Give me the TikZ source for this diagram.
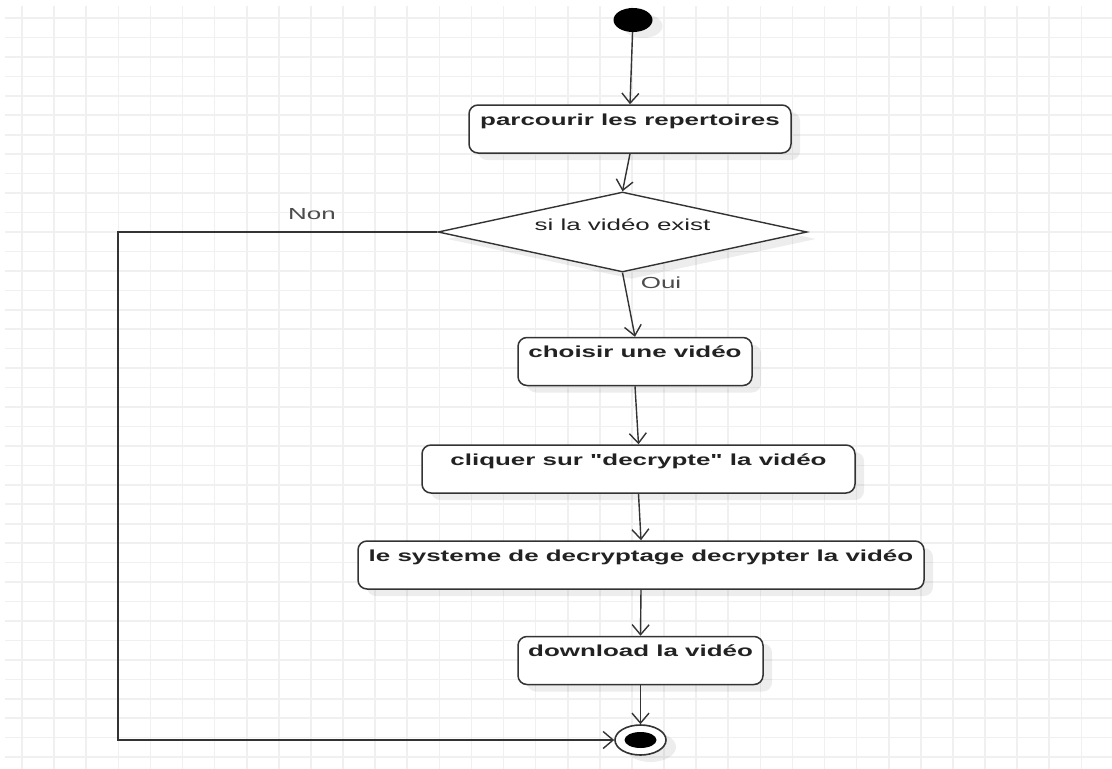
\documentclass[tikz,border=0pt]{standalone}
\usepackage{fontspec}
\setmainfont{Liberation Sans}
\newfontfamily\diagfont[FakeStretch=1.62]{Liberation Sans}
\usetikzlibrary{arrows.meta,shapes.geometric,shadows}
\definecolor{gridgray}{HTML}{F0F0F0}
\definecolor{linegray}{HTML}{333333}
\definecolor{textgray}{HTML}{222222}

\tikzset{
  gridline/.style={draw=gridgray, line width=1.6pt},
  softshadow/.style={drop shadow={shadow xshift=9pt, shadow yshift=-7pt, opacity=0.07, fill=black}},
  action/.style={draw=linegray, line width=1.5pt, rounded corners=9pt, fill=white, softshadow,
    font=\diagfont\fontsize{16}{18}\selectfont\bfseries, text=textgray,
    text height=18pt, text depth=26pt, inner ysep=2pt, inner xsep=0pt, minimum height=48pt},
  decision/.style={diamond, draw=linegray, line width=1.4pt, fill=white, softshadow, aspect=4.6,
    inner sep=0pt, minimum width=369pt, minimum height=80pt,
    font=\diagfont\fontsize{16}{18}\selectfont, text=textgray, text height=12pt, text depth=16pt},
  flow/.style={draw=linegray, line width=1.4pt, -{Straight Barb[length=10pt,width=17pt,line width=1.4pt]}},
  guard/.style={font=\diagfont\fontsize{16}{18}\selectfont, text=black!70}
}

\begin{document}
\begin{tikzpicture}[x=1pt, y=-1pt]
  \useasboundingbox (0,0) rectangle (1112,769);
  \fill[white] (0,0) rectangle (1112,769);
  %GRID
  \foreach \gx in {0,...,33}
    \draw[gridline] ({22+32.1*\gx},6) -- ({22+32.1*\gx},769);
  \foreach \gy in {0,...,38}
    \draw[gridline] (5,{18+19.45*\gy}) -- (1112,{18+19.45*\gy});

  %START
  \node[ellipse, fill=black, inner sep=0pt, minimum width=39pt, minimum height=24pt,
    drop shadow={shadow xshift=10pt, shadow yshift=-6pt, opacity=0.07, fill=black}] (start) at (633,20) {};

  %ACTIONS
  \node[action, minimum width=322pt] (browse) at (630,129) {parcourir les repertoires};
  \node[decision] (exists) at (622.5,232) {si la vidéo exist};
  \node[action, minimum width=234pt] (choose) at (635,361.5) {choisir une vidéo};
  \node[action, minimum width=433pt] (click) at (638.5,469) {cliquer sur "decrypte" la vidéo};
  \node[action, minimum width=566pt] (decrypt) at (641,565) {le systeme de decryptage decrypter la vidéo};
  \node[action, minimum width=245pt] (download) at (640.5,660.5) {download la vidéo};

  %END
  \node[ellipse, draw=linegray, line width=1.6pt, fill=white, inner sep=0pt, minimum width=51pt, minimum height=30pt,
    drop shadow={shadow xshift=10pt, shadow yshift=-7pt, opacity=0.07, fill=black}] (end) at (640.5,740) {};
  \node[ellipse, fill=black, inner sep=0pt, minimum width=32pt, minimum height=16pt] (endcore) at (end) {};

  %FLOWS
  \draw[flow] (start) -- (browse.north);
  \draw[flow] (browse.south) -- (exists.north);
  \draw[flow] (exists.south) -- (choose.north);
  \draw[flow] (choose.south) -- (click.north);
  \draw[flow] (click.south) -- (decrypt.north);
  \draw[flow] (decrypt.south) -- (download.north);
  \draw[flow] (download.south) -- (end.north);
  \coordinate (noturn) at (118,232);
  \draw[flow] (exists.west) -- (noturn) |- (end.west);

  %GUARDS
  \node[guard] (non) at (312,214) {Non};
  \node[guard] (oui) at (661,283) {Oui};
\end{tikzpicture}
\end{document}
